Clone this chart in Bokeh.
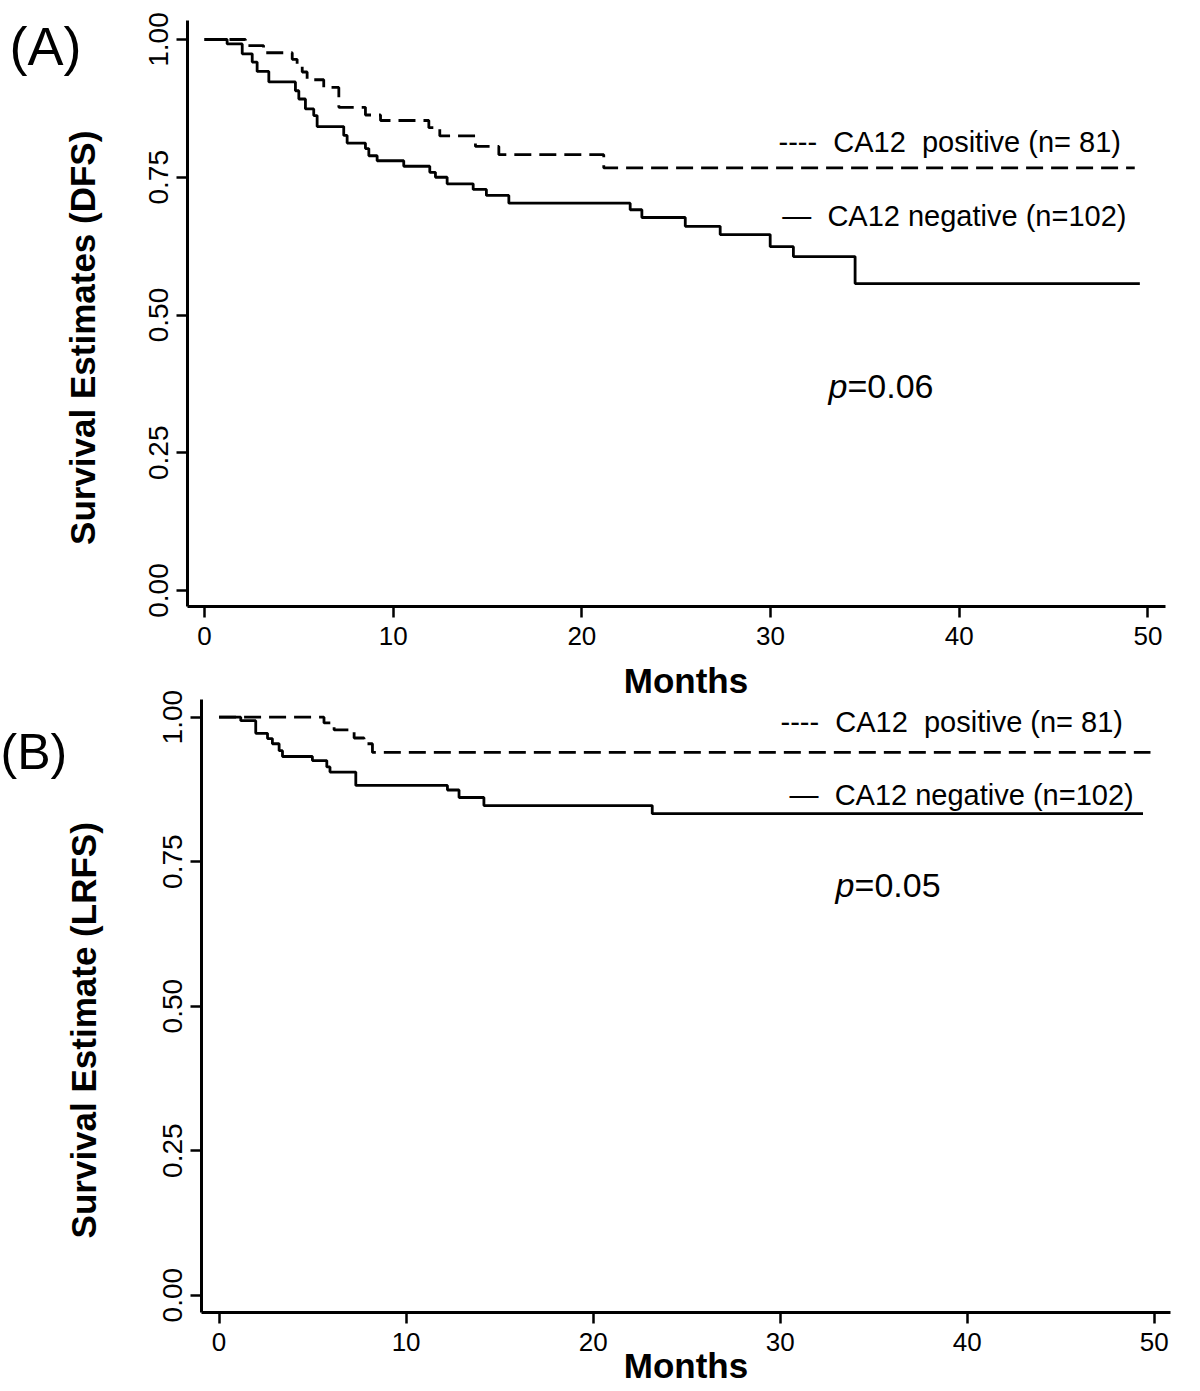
from bokeh.plotting import figure
from bokeh.layouts import row
from bokeh.models import Range1d, FixedTicker, PrintfTickFormatter, Label, GridBox
from bokeh.embed import file_html
from bokeh.resources import INLINE

# ---------------- data ----------------
# Panel A: disease-free survival
dfs_pos_time = [0, 2.17, 3.13, 4.65, 4.91, 5.18, 5.44, 6.32, 7.12, 8.53, 9.33,
                11.89, 12.47, 14.36, 15.6, 21.16, 49.3]
dfs_pos_surv = [1.0, 0.989, 0.976, 0.964, 0.953, 0.941, 0.927, 0.913, 0.877, 0.863, 0.853,
                0.840, 0.825, 0.806, 0.791, 0.767, 0.767]
dfs_neg_time = [0, 1.20, 2.0, 2.53, 2.79, 3.41, 4.82, 5.0, 5.35, 5.79, 5.97,
                7.38, 7.56, 8.53, 8.71, 9.15, 10.56, 11.94, 12.24, 12.86, 14.24,
                14.94, 16.13, 22.56, 23.18, 25.48, 27.33, 29.98, 31.21, 34.48, 49.57]
dfs_neg_surv = [1.0, 0.992, 0.974, 0.959, 0.942, 0.923, 0.907, 0.892, 0.874, 0.862, 0.842,
                0.826, 0.812, 0.802, 0.789, 0.780, 0.770, 0.759, 0.750, 0.738, 0.728,
                0.717, 0.703, 0.691, 0.677, 0.661, 0.646, 0.624, 0.606, 0.557, 0.557]

# Panel B: local-recurrence-free survival
lrfs_pos_time = [0, 5.61, 6.15, 7.22, 7.75, 8.2, 49.8]
lrfs_pos_surv = [1.0, 0.990, 0.978, 0.964, 0.954, 0.939, 0.939]
lrfs_neg_time = [0, 1.16, 1.96, 2.59, 2.85, 3.21, 3.39, 4.99, 5.76, 5.93, 7.31,
                 12.21, 12.83, 14.16, 23.16, 49.4]
lrfs_neg_surv = [1.0, 0.994, 0.972, 0.963, 0.954, 0.942, 0.932, 0.925, 0.914, 0.905, 0.882,
                 0.874, 0.861, 0.847, 0.833, 0.833]

x_ticks = [0, 10, 20, 30, 40, 50]
y_ticks = [0.0, 0.25, 0.5, 0.75, 1.0]

NB = "\u00a0"
label_pos = "----" + NB + NB + "CA12" + NB + NB + "positive (n=" + NB + "81)"
label_neg = "\u2014" + NB + NB + "CA12 negative (n=102)"
title_a = "Survival Estimates (DFS)" + NB * 5
title_b = "Survival Estimate (LRFS)" + NB * 5

FONT = "Liberation Sans"


def make_panel(height, borders, xr, yr, ytitle, title_standoff):
    left, right, top, bottom = borders
    p = figure(width=1200, height=height, output_backend="svg", toolbar_location=None,
               x_range=Range1d(*xr), y_range=Range1d(*yr),
               min_border_left=left, min_border_right=right,
               min_border_top=top, min_border_bottom=bottom)
    p.outline_line_color = None
    p.xgrid.visible = False
    p.ygrid.visible = False
    p.background_fill_color = "white"
    p.border_fill_color = "white"

    for ax in (p.xaxis[0], p.yaxis[0]):
        ax.axis_line_width = 3
        ax.axis_line_color = "black"
        ax.major_tick_line_width = 2.5
        ax.major_tick_line_color = "black"
        ax.major_tick_out = 11
        ax.major_tick_in = 0
        ax.minor_tick_line_color = None
        ax.major_label_text_color = "black"
        ax.major_label_text_font = FONT

    p.xaxis.ticker = FixedTicker(ticks=x_ticks)
    p.xaxis.major_label_text_font_size = "26px"
    p.xaxis.major_label_standoff = 9

    p.yaxis.ticker = FixedTicker(ticks=y_ticks)
    p.yaxis.formatter = PrintfTickFormatter(format="%.2f")
    p.yaxis.major_label_orientation = "vertical"
    p.yaxis.major_label_text_font_size = "28px"
    p.yaxis.major_label_standoff = 8
    p.yaxis.axis_label = ytitle
    p.yaxis.axis_label_text_font = FONT
    p.yaxis.axis_label_text_font_style = "bold"
    p.yaxis.axis_label_text_font_size = "35px"
    p.yaxis.axis_label_text_color = "black"
    p.yaxis.axis_label_standoff = title_standoff
    return p


def add_text(p, x, y, text, size, style="normal", align="left", baseline="middle", x_offset=0):
    p.add_layout(Label(x=x, y=y, text=text, text_font=FONT, text_font_size=size,
                       text_font_style=style, text_align=align, text_baseline=baseline,
                       text_color="black", x_offset=x_offset))


def make_tag(w, h, x, y_from_top, text, size):
    """small transparent canvas carrying a panel tag such as (A), laid over the panel"""
    t = figure(width=w, height=h, output_backend="svg", toolbar_location=None,
               x_range=Range1d(0, w), y_range=Range1d(0, h),
               x_axis_location=None, y_axis_location=None, min_border=0)
    t.outline_line_color = None
    t.background_fill_color = None
    t.border_fill_color = None
    t.grid.grid_line_color = None
    t.add_layout(Label(x=x, y=h - y_from_top, text=text, text_font=FONT,
                       text_font_size=size, text_align="left", text_baseline="middle",
                       text_color="black"))
    return t


# ---------------- Panel A ----------------
pa = make_panel(656, (187, 35, 20, 50), (-0.90, 50.93), (-0.029, 1.0345), title_a, 45)
pa.step(dfs_neg_time, dfs_neg_surv, mode="after", line_color="black", line_width=2.8)
pa.step(dfs_pos_time, dfs_pos_surv, mode="after", line_color="black", line_width=2.8,
        line_dash="17 8")
add_text(pa, 30.42, 0.8136, label_pos, "29px")
add_text(pa, 30.62, 0.6806, label_neg, "29px")
add_text(pa, 33.07, 0.372, "p", "34px", style="italic")
add_text(pa, 33.07, 0.372, "=0.06", "34px", x_offset=19)

# ---------------- Panel B ----------------
pb = make_panel(735, (201, 30, 43, 79), (-0.94, 50.87), (-0.030, 1.0306), title_b, 58)
# x-axis title of panel A, drawn in the band between the two panels
pb.title.text = "Months"
pb.title.align = "center"
pb.title.text_font = FONT
pb.title.text_font_size = "35px"
pb.title.text_font_style = "bold"
pb.title.text_color = "black"
pb.title.standoff = 0
pb.step(lrfs_neg_time, lrfs_neg_surv, mode="after", line_color="black", line_width=2.8)
pb.step(lrfs_pos_time, lrfs_pos_surv, mode="after", line_color="black", line_width=2.8,
        line_dash="17 8")
add_text(pb, 30.02, 0.991, label_pos, "29px")
add_text(pb, 30.50, 0.865, label_neg, "29px")
add_text(pb, 32.96, 0.709, "p", "34px", style="italic")
add_text(pb, 32.96, 0.709, "=0.05", "34px", x_offset=19)
pb.xaxis.axis_label = "Months"
pb.xaxis.axis_label_text_font = FONT
pb.xaxis.axis_label_text_font_style = "bold"
pb.xaxis.axis_label_text_font_size = "35px"
pb.xaxis.axis_label_text_color = "black"
pb.xaxis.axis_label_standoff = -8

tag_a = make_tag(100, 100, 9, 45, "(A)", "54px")
tag_b = make_tag(80, 140, 0, 95, "(B)", "50px")

# each panel sits in its own row so that their frames are not aligned to each other;
# the tags share the panels' grid cells and are drawn on top of them
layout = GridBox(children=[(row(pa), 0, 0), (row(pb), 1, 0),
                           (row(tag_a), 0, 0), (row(tag_b), 1, 0)], spacing=0)
open("out.html", "w").write(file_html(layout, INLINE))
